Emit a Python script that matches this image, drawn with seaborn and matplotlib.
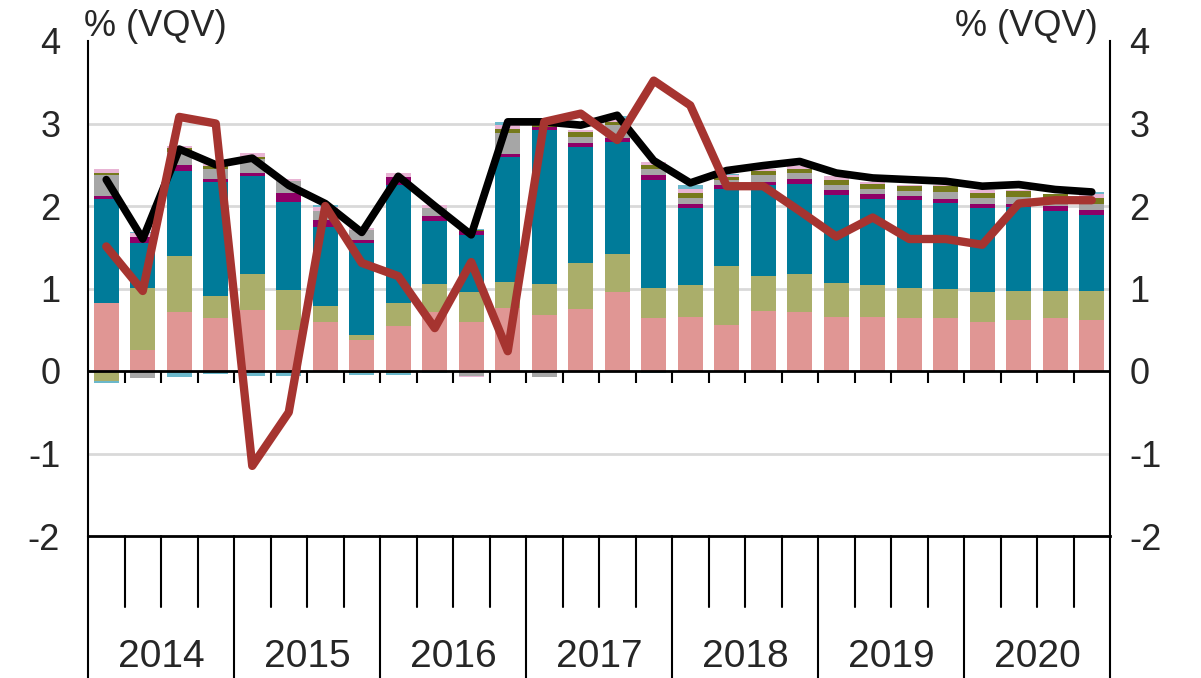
# Contributions to quarterly growth (% VQV), 2014-2020, stacked bars + two lines
import numpy as np
import pandas as pd
import matplotlib.pyplot as plt
import seaborn as sns

# ---- data -------------------------------------------------------------------
years = ["2014", "2015", "2016", "2017", "2018", "2019", "2020"]
quarters = ["Q1", "Q2", "Q3", "Q4"]

comp_salmon = [0.83, 0.25, 0.72, 0.64, 0.74, 0.50, 0.60, 0.38, 0.54, 0.72, 0.59, 0.76, 0.68, 0.75,
               0.96, 0.64, 0.65, 0.56, 0.73, 0.72, 0.65, 0.65, 0.64, 0.64, 0.60, 0.62, 0.64, 0.62]
comp_olive = [-0.12, 0.76, 0.67, 0.27, 0.44, 0.48, 0.19, 0.06, 0.29, 0.34, 0.37, 0.32, 0.38, 0.56,
              0.46, 0.37, 0.39, 0.71, 0.42, 0.46, 0.42, 0.39, 0.37, 0.35, 0.36, 0.35, 0.33, 0.35]
comp_teal = [1.26, 0.54, 1.04, 1.38, 1.18, 1.07, 0.96, 1.11, 1.43, 0.76, 0.69, 1.52, 1.86, 1.40,
             1.35, 1.30, 0.93, 0.94, 1.10, 1.09, 1.06, 1.05, 1.06, 1.05, 1.01, 1.02, 0.97, 0.92]
comp_magenta = [0.03, 0.08, 0.07, 0.04, 0.04, 0.11, 0.08, 0.04, 0.09, 0.06, 0.05, 0.03, 0.04, 0.05,
                0.06, 0.06, 0.06, 0.05, 0.04, 0.06, 0.06, 0.06, 0.05, 0.05, 0.06, 0.04, 0.06, 0.06]
comp_gray = [0.25, -0.08, 0.15, 0.12, 0.17, 0.14, 0.11, 0.12, 0.00, 0.10, -0.06, 0.25, -0.07, 0.08,
             0.15, 0.08, 0.07, 0.06, 0.09, 0.07, 0.07, 0.06, 0.06, 0.08, 0.07, 0.08, 0.06, 0.07]
comp_darkolive = [0.03, -0.01, 0.05, 0.04, 0.03, -0.01, 0.00, -0.03, -0.03, 0.00, 0.01, 0.05, 0.03, 0.06,
                  0.04, 0.05, 0.06, 0.03, 0.04, 0.05, 0.06, 0.06, 0.06, 0.07, 0.06, 0.07, 0.08, 0.08]
comp_pink = [0.05, 0.04, 0.03, 0.02, 0.04, 0.03, 0.05, 0.02, 0.05, 0.03, -0.01, 0.05, 0.02, 0.02,
             0.03, 0.03, 0.05, 0.03, 0.03, 0.03, 0.04, 0.02, 0.02, 0.01, 0.03, 0.01, 0.01, 0.04]
comp_lightblue = [-0.03, 0.02, -0.07, -0.04, -0.06, -0.05, 0.02, -0.02, -0.02, -0.03, 0.01, 0.04, 0.02, 0.00,
                  0.04, -0.02, 0.05, 0.01, 0.00, 0.00, 0.00, 0.00, 0.00, 0.00, 0.00, 0.00, 0.00, 0.03]

line_black = [2.32, 1.60, 2.69, 2.50, 2.58, 2.25, 2.03, 1.68, 2.36, 2.00, 1.65, 3.02, 3.02, 2.98,
              3.10, 2.55, 2.28, 2.43, 2.49, 2.54, 2.40, 2.34, 2.32, 2.30, 2.24, 2.26, 2.20, 2.17]
line_red = [1.51, 0.97, 3.08, 3.00, -1.15, -0.50, 2.00, 1.31, 1.15, 0.52, 1.32, 0.24, 3.02, 3.12,
            2.80, 3.52, 3.22, 2.24, 2.24, 1.94, 1.63, 1.86, 1.60, 1.60, 1.53, 2.03, 2.07, 2.07]

series = [
    (comp_salmon, "#E09694"),
    (comp_olive, "#AAAE6A"),
    (comp_teal, "#007B99"),
    (comp_magenta, "#8E0067"),
    (comp_gray, "#A6A6A6"),
    (comp_darkolive, "#767A1C"),
    (comp_pink, "#E8B4D4"),
    (comp_lightblue, "#6BB8CB"),
]

labels = [y + q for y in years for q in quarters]
x = np.arange(len(labels))
lines = pd.DataFrame({"x": x, "black": line_black, "red": line_red})

# ---- figure -------------------------------------------------------------------
sns.set_style("white")
plt.rcParams['font.family'] = ['Liberation Sans', 'DejaVu Sans']
plt.rcParams['axes.unicode_minus'] = False
FS = 26

fig = plt.figure(figsize=(12.01, 6.78), dpi=100)
ax = fig.add_axes([88 / 1201, 1 - 536 / 678, (1110 - 88) / 1201, 495 / 678])

# gridlines (not at 0 / 4 / -2)
for g in [-1, 1, 2, 3]:
    ax.axhline(g, color="#D9D9D9", lw=2, zorder=0)

# stacked bars, positives up and negatives down
pos_bottom = np.zeros(len(x))
neg_bottom = np.zeros(len(x))
for vals, col in series:
    v = np.array(vals)
    bottom = np.where(v >= 0, pos_bottom, neg_bottom)
    ax.bar(x, v, width=0.68, bottom=bottom, color=col, edgecolor="none", zorder=2)
    pos_bottom += np.clip(v, 0, None)
    neg_bottom += np.clip(v, None, 0)

# zero line with small downward ticks
ax.axhline(0, color="black", lw=2, zorder=3)
ax.vlines(x[:-1] + 0.5, -0.15, 0, color="black", lw=1.5, zorder=3)

sns.lineplot(data=lines, x="x", y="black", ax=ax, color="black", lw=5.5, sort=False, zorder=4)
sns.lineplot(data=lines, x="x", y="red", ax=ax, color="#A63430", lw=6, sort=False, zorder=5)

ax.set_xlim(-0.5, len(x) - 0.5)
ax.set_ylim(-2, 4)
ax.set_xlabel("")
ax.set_ylabel("")
ax.set_xticks([])
ax.set_yticks(range(-2, 5))
ax.tick_params(axis="y", length=0, labelsize=FS, pad=20)

for side in ["left", "right", "bottom"]:
    ax.spines[side].set_visible(True)
    ax.spines[side].set_color("black")
    ax.spines[side].set_linewidth(1.5)
ax.spines["bottom"].set_linewidth(2)
ax.spines["top"].set_visible(False)

# right-hand axis labels
ax2 = ax.twinx()
ax2.set_ylim(-2, 4)
ax2.set_yticks(range(-2, 5))
ax2.tick_params(axis="y", length=0, labelsize=FS, pad=14)
for side in ["left", "right", "bottom", "top"]:
    ax2.spines[side].set_visible(False)

# category axis below the plot: quarter separators + years
trans = ax.get_xaxis_transform()
for b in np.arange(-0.5, len(x), 1.0):
    idx = int(b + 0.5)
    low = -0.31 if idx % 4 == 0 else -0.143
    ax.plot([b, b], [0, low], transform=trans, color="black", lw=1.5, clip_on=False)
for i, yr in enumerate(years):
    ax.text(i * 4 + 1.5, -0.245, yr, transform=trans, ha="center", va="center", fontsize=28)

fig.text(84 / 1201, 1 - 26 / 678, "% (VQV)", ha="left", va="center", fontsize=FS)
fig.text(1098 / 1201, 1 - 26 / 678, "% (VQV)", ha="right", va="center", fontsize=FS)

fig.savefig("out.png", dpi=100)
